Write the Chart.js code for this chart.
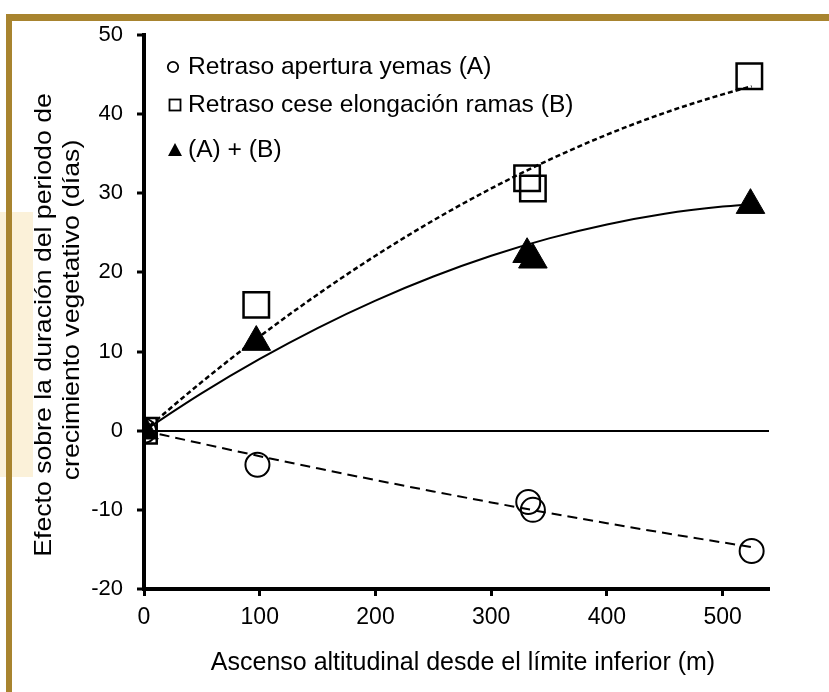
<!DOCTYPE html>
<html><head><meta charset="utf-8">
<script src="https://cdn.jsdelivr.net/npm/chart.js@4.4.0/dist/chart.umd.min.js"></script>
<style>
html,body{margin:0;padding:0;background:#fff;}
#wrap{position:relative;width:829px;height:692px;overflow:hidden;background:#fff;}
#beige{position:absolute;left:0;top:212px;width:33px;height:265px;background:#FBF1D9;}
#frame{position:absolute;left:6px;top:14px;width:900px;height:900px;border-top:7px solid #A8842F;border-left:6px solid #A8842F;}
canvas{position:absolute;left:0;top:0;}
</style></head>
<body><div id="wrap"><div id="beige"></div><div id="frame"></div><canvas id="c" width="829" height="692"></canvas></div>
<script>
// ---- data ----
const seriesNames = ["Retraso apertura yemas (A)", "Retraso cese elongación ramas (B)", "(A) + (B)"];
const xTitle = "Ascenso altitudinal desde el límite inferior (m)";
const yTitleLines = ["Efecto sobre la duración del periodo de", "crecimiento vegetativo (días)"];
const xTickStep = 100;
const yTickStep = 10;

const aX  = [0, 98, 332, 336, 525];
const aY  = [0, -4.3, -9.0, -10.0, -15.2];
const bX  = [0, 97, 331, 336, 523];
const bY  = [0, 15.9, 31.9, 30.6, 44.8];
const abX = [0, 97, 331, 336, 524];
const abY = [0, 11.2, 22.3, 21.6, 28.5];

// fitted trend curves
const curveX  = [0, 50, 100, 150, 200, 250, 300, 350, 400, 450, 500, 525];
const curveA  = [0, -1.63, -3.22, -4.75, -6.24, -7.67, -9.06, -10.40, -11.69, -12.93, -14.12, -14.70];
const curveB  = [0, 6.17, 11.91, 17.22, 22.11, 26.58, 30.61, 34.22, 37.41, 40.17, 42.50, 43.51];
const curveAB = [0, 4.75, 9.07, 12.97, 16.44, 19.48, 22.10, 24.30, 26.06, 27.41, 28.32, 28.62];

const pts = (xs, ys) => xs.map((x, i) => ({x: x, y: ys[i]}));
const FONT = '"Liberation Sans", Arial, sans-serif';
Chart.defaults.color = '#000';
Chart.defaults.font.family = FONT;

const overlay = {
  id: 'overlay',
  afterDraw(chart) {
    const ctx = chart.ctx;
    ctx.save();
    ctx.fillStyle = '#000';
    ctx.textAlign = 'center';
    ctx.textBaseline = 'middle';
    ctx.font = '25px ' + FONT;
    ctx.fillText(xTitle, 463, 663);
    ctx.font = '24px ' + FONT;
    const lx = [44, 72];
    const ly = [325, 310];
    yTitleLines.forEach((t, i) => {
      ctx.save();
      ctx.translate(lx[i], ly[i]);
      ctx.rotate(-Math.PI / 2);
      ctx.scale(1.11, 1);
      ctx.fillText(t, 0, 0);
      ctx.restore();
    });
    // legend
    const gy = [67, 105, 150];
    const mx = 175;
    ctx.textAlign = 'left';
    ctx.font = '24.6px ' + FONT;
    ctx.strokeStyle = '#000';
    ctx.lineWidth = 1.8;
    ctx.beginPath(); ctx.arc(mx - 2, gy[0], 5.2, 0, Math.PI * 2); ctx.stroke();
    ctx.strokeRect(mx - 5.5, gy[1] - 5.5, 11, 11);
    ctx.beginPath(); ctx.moveTo(mx, gy[2] - 7); ctx.lineTo(mx + 7, gy[2] + 6); ctx.lineTo(mx - 7, gy[2] + 6); ctx.closePath(); ctx.fill();
    seriesNames.forEach((t, i) => ctx.fillText(t, 188, gy[i]));
    ctx.restore();
  }
};

new Chart(document.getElementById('c'), {
  type: 'scatter',
  data: {
    datasets: [
      {data: pts(aX, aY), pointStyle: 'circle', pointRadius: 12, borderWidth: 2, borderColor: '#000', backgroundColor: 'rgba(0,0,0,0)', showLine: false},
      {data: pts(bX, bY), pointStyle: 'rect', pointRadius: 18, borderWidth: 2.5, borderColor: '#000', backgroundColor: 'rgba(0,0,0,0)', showLine: false},
      {data: pts(abX, abY), pointStyle: 'triangle', pointRadius: 16.5, borderWidth: 1, borderColor: '#000', backgroundColor: '#000', showLine: false},
      {data: pts(curveX, curveA), showLine: true, pointRadius: 0, borderColor: '#000', borderWidth: 2, borderDash: [10, 6], cubicInterpolationMode: 'monotone'},
      {data: pts(curveX, curveB), showLine: true, pointRadius: 0, borderColor: '#000', borderWidth: 2.5, borderDash: [5, 3], cubicInterpolationMode: 'monotone'},
      {data: pts(curveX, curveAB), showLine: true, pointRadius: 0, borderColor: '#000', borderWidth: 2, cubicInterpolationMode: 'monotone'}
    ]
  },
  options: {
    responsive: false,
    animation: false,
    events: [],
    layout: {padding: {left: 0, top: 35, right: 60, bottom: 0}},
    plugins: {legend: {display: false}, tooltip: {enabled: false}},
    scales: {
      x: {
        type: 'linear', min: 0, max: 540,
        ticks: {stepSize: xTickStep, includeBounds: false, font: {size: 23}, padding: 8, color: '#000'},
        border: {color: '#000', width: 4},
        grid: {drawOnChartArea: false, tickLength: 7, tickWidth: 3, tickColor: '#000'},
        afterFit(s) { s.height = 103; }
      },
      y: {
        min: -20, max: 50,
        ticks: {stepSize: yTickStep, font: {size: 22}, padding: 14, color: '#000'},
        border: {color: '#000', width: 4},
        grid: {
          color: c => (c.tick && c.tick.value === 0) ? '#000' : 'rgba(0,0,0,0)',
          lineWidth: 2, tickLength: 7, tickWidth: 3, tickColor: '#000'
        },
        afterFit(s) { s.width = 144; }
      }
    }
  },
  plugins: [overlay]
});
</script>
</body></html>
